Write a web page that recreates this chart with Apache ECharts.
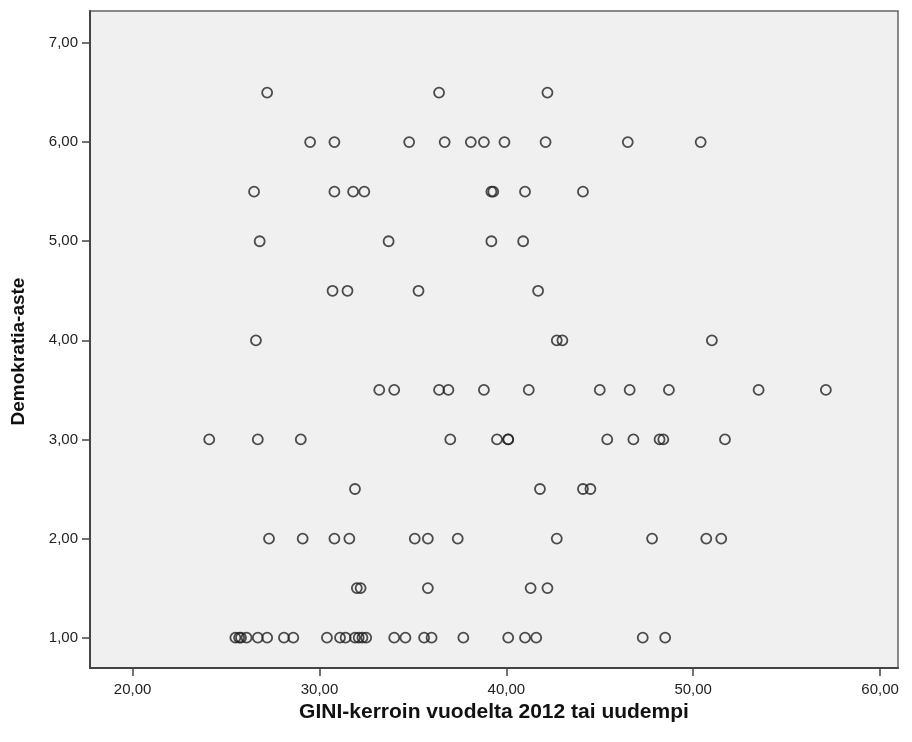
<!DOCTYPE html>
<html>
<head>
<meta charset="utf-8">
<script src="https://cdn.jsdelivr.net/npm/echarts@6/dist/echarts.min.js"></script>
<style>
html,body{margin:0;padding:0;background:#fff;}
#chart{width:912px;height:742px;}
</style>
</head>
<body>
<div id="chart"></div>
<script>
// GINI values for each democracy level (Demokratia-aste)
const level_1_0 = [25.5, 25.7, 25.8, 26.1, 26.7, 27.2, 28.1, 28.6, 30.4, 31.1, 31.4, 31.9, 32.1, 32.3, 32.5, 34.0, 34.6, 35.6, 36.0, 37.7, 40.1, 41.0, 41.6, 47.3, 48.5];
const level_1_5 = [32.0, 32.2, 35.8, 41.3, 42.2];
const level_2_0 = [27.3, 29.1, 30.8, 31.6, 35.1, 35.8, 37.4, 42.7, 47.8, 50.7, 51.5];
const level_2_5 = [31.9, 41.8, 44.1, 44.5];
const level_3_0 = [24.1, 26.7, 29.0, 37.0, 39.5, 40.1, 40.1, 45.4, 46.8, 48.2, 48.4, 51.7];
const level_3_5 = [33.2, 34.0, 36.4, 36.9, 38.8, 41.2, 45.0, 46.6, 48.7, 53.5, 57.1];
const level_4_0 = [26.6, 42.7, 43.0, 51.0];
const level_4_5 = [30.7, 31.5, 35.3, 41.7];
const level_5_0 = [26.8, 33.7, 39.2, 40.9];
const level_5_5 = [26.5, 30.8, 31.8, 32.4, 39.2, 39.3, 41.0, 44.1];
const level_6_0 = [29.5, 30.8, 34.8, 36.7, 38.1, 38.8, 39.9, 42.1, 46.5, 50.4];
const level_6_5 = [27.2, 36.4, 42.2];

const levels = [1.0, 1.5, 2.0, 2.5, 3.0, 3.5, 4.0, 4.5, 5.0, 5.5, 6.0, 6.5];
const giniByLevel = [level_1_0, level_1_5, level_2_0, level_2_5, level_3_0, level_3_5, level_4_0, level_4_5, level_5_0, level_5_5, level_6_0, level_6_5];

const xTicks = [20, 30, 40, 50, 60];
const yTicks = [1, 2, 3, 4, 5, 6, 7];
const xTitle = 'GINI-kerroin vuodelta 2012 tai uudempi';
const yTitle = 'Demokratia-aste';

const points = [];
levels.forEach((lv, i) => giniByLevel[i].forEach(g => points.push([g, lv])));

const fmt = v => v.toFixed(2).replace('.', ',');
const font = 'Liberation Sans, Arial, sans-serif';

const chart = echarts.init(document.getElementById('chart'), null, {renderer: 'canvas'});
chart.setOption({
  animation: false,
  backgroundColor: '#ffffff',
  grid: {
    left: 90, top: 11, right: 14, bottom: 74,
    show: true, backgroundColor: '#f0f0f0', borderColor: '#666', borderWidth: 1.5
  },
  xAxis: {
    type: 'value', min: 17.72, max: 60.96,
    splitLine: {show: false},
    axisLine: {show: true, onZero: false, lineStyle: {color: '#444', width: 2}},
    axisTick: {show: true, length: 8, customValues: xTicks, lineStyle: {color: '#444', width: 1.5}},
    axisLabel: {customValues: xTicks, formatter: fmt, color: '#222', fontSize: 15, fontFamily: font, margin: 14},
    name: xTitle, nameLocation: 'middle', nameGap: 34,
    nameTextStyle: {fontSize: 21, fontWeight: 'bold', color: '#111', fontFamily: font}
  },
  yAxis: {
    type: 'value', min: 0.694, max: 7.323,
    splitLine: {show: false},
    axisLine: {show: true, onZero: false, lineStyle: {color: '#444', width: 2}},
    axisTick: {show: true, length: 8, customValues: yTicks, lineStyle: {color: '#444', width: 1.5}},
    axisLabel: {customValues: yTicks, formatter: fmt, color: '#222', fontSize: 15, fontFamily: font, margin: 12},
    name: yTitle, nameLocation: 'middle', nameGap: 62,
    nameTextStyle: {fontSize: 19, fontWeight: 'bold', color: '#111', fontFamily: font, padding: [0, 24, 0, 0]}
  },
  series: [{
    type: 'scatter',
    data: points,
    symbol: 'circle',
    symbolSize: 10,
    itemStyle: {color: 'rgba(0,0,0,0)', borderColor: '#222', borderWidth: 1.8}
  }]
});
</script>
</body>
</html>
